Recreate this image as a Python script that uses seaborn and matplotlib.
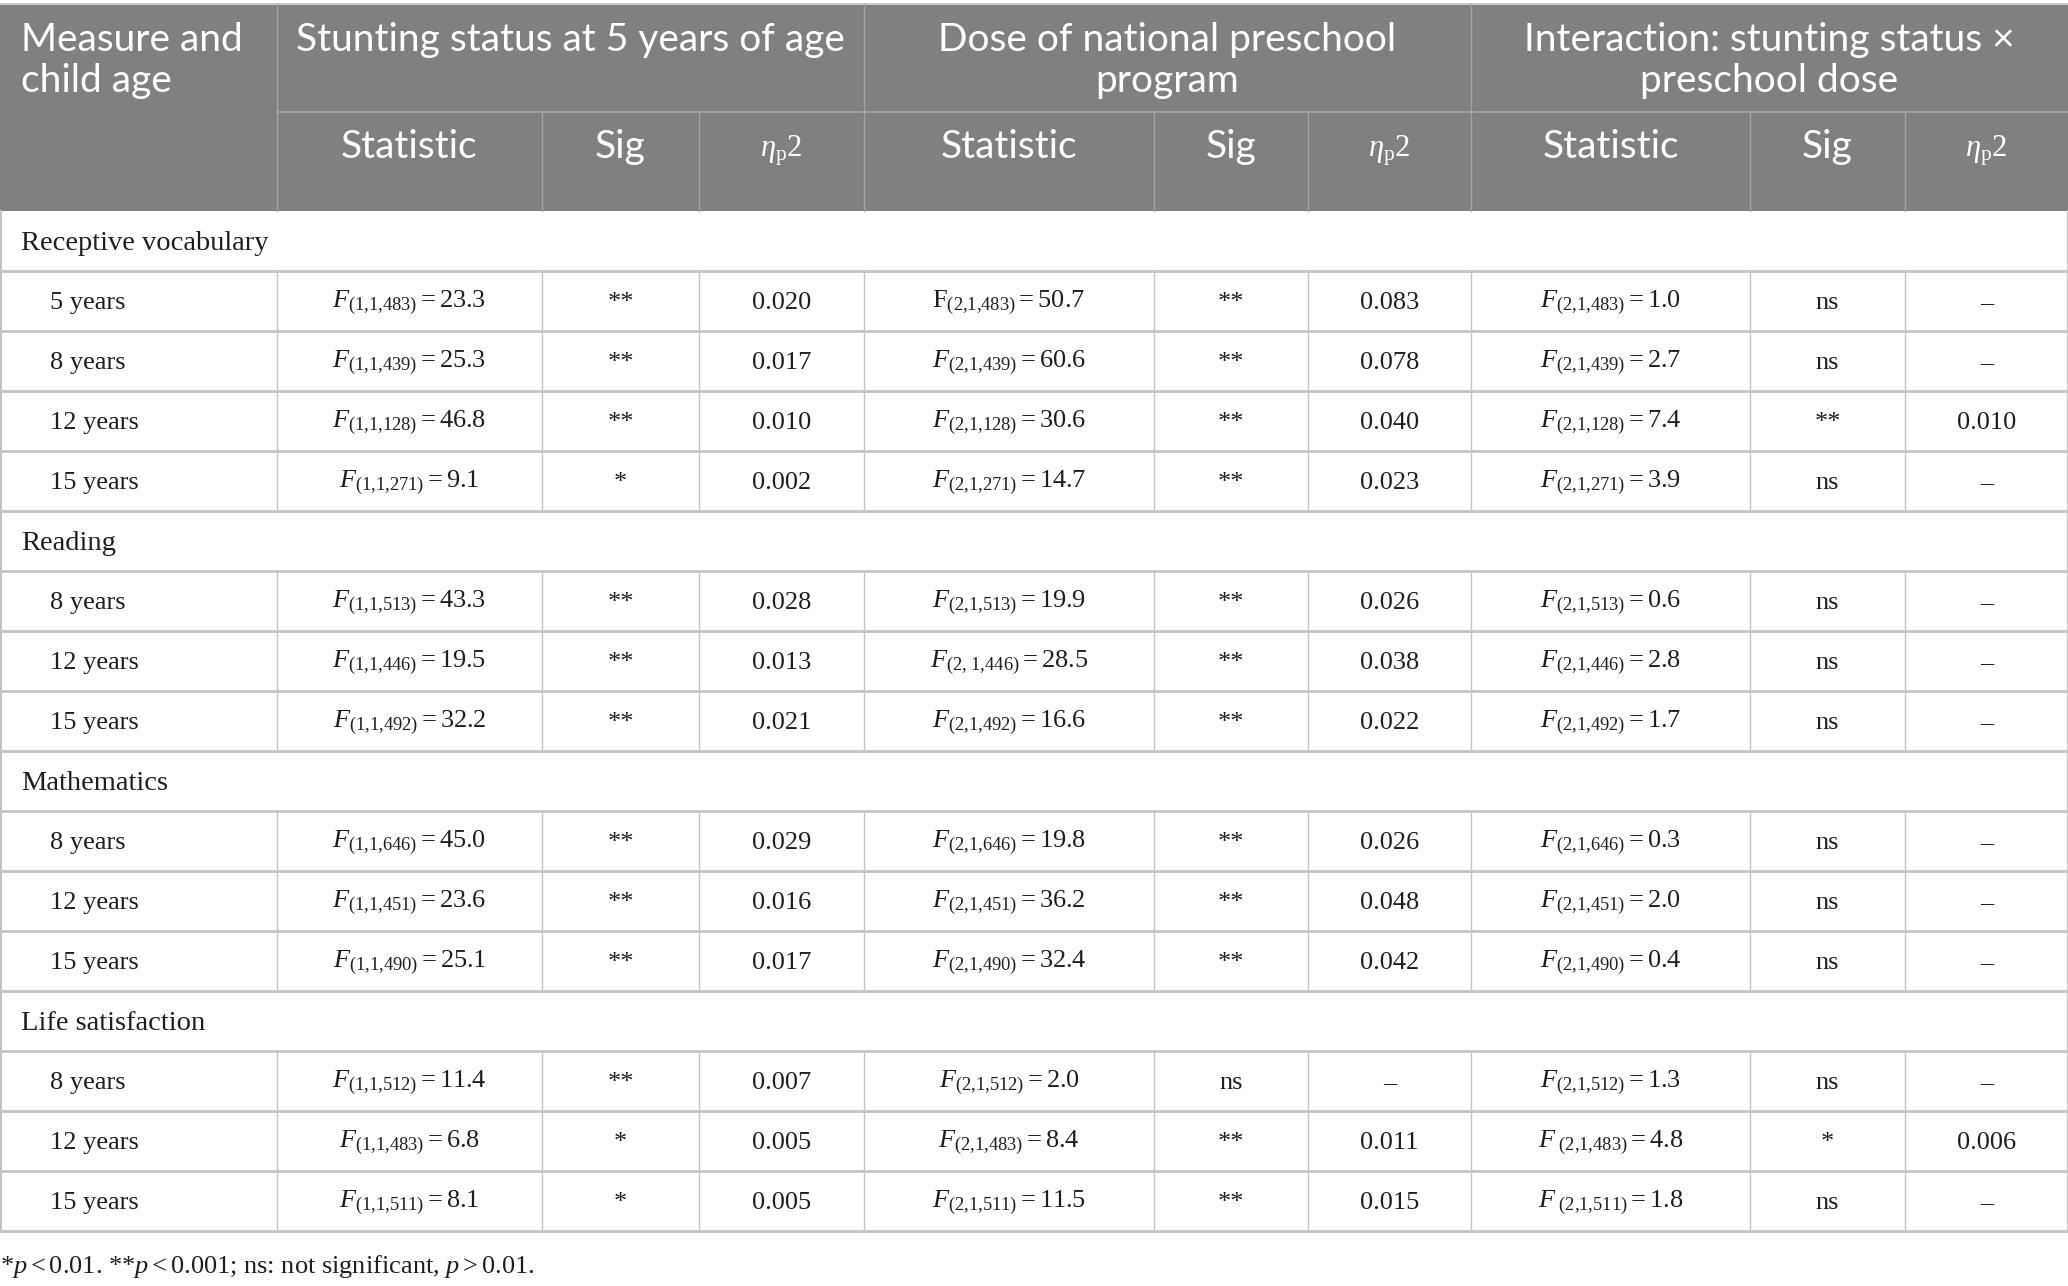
import matplotlib
matplotlib.use("Agg")
import matplotlib.pyplot as plt
import seaborn as sns
import pandas as pd

# ---- data ----
groups = ["Receptive vocabulary", "Reading", "Mathematics", "Life satisfaction"]
ages = [
    ["5 years", "8 years", "12 years", "15 years"],
    ["8 years", "12 years", "15 years"],
    ["8 years", "12 years", "15 years"],
    ["8 years", "12 years", "15 years"],
]

stunt_df = ["(1,1,483)", "(1,1,439)", "(1,1,128)", "(1,1,271)",
            "(1,1,513)", "(1,1,446)", "(1,1,492)",
            "(1,1,646)", "(1,1,451)", "(1,1,490)",
            "(1,1,512)", "(1,1,483)", "(1,1,511)"]
stunt_f = [23.3, 25.3, 46.8, 9.1, 43.3, 19.5, 32.2, 45.0, 23.6, 25.1, 11.4, 6.8, 8.1]
stunt_sig = ["**", "**", "**", "*", "**", "**", "**", "**", "**", "**", "**", "*", "*"]
stunt_eta = ["0.020", "0.017", "0.010", "0.002", "0.028", "0.013", "0.021",
             "0.029", "0.016", "0.017", "0.007", "0.005", "0.005"]

dose_df = ["(2,1,483)", "(2,1,439)", "(2,1,128)", "(2,1,271)",
           "(2,1,513)", "(2, 1,446)", "(2,1,492)",
           "(2,1,646)", "(2,1,451)", "(2,1,490)",
           "(2,1,512)", "(2,1,483)", "(2,1,511)"]
dose_f = [50.7, 60.6, 30.6, 14.7, 19.9, 28.5, 16.6, 19.8, 36.2, 32.4, 2.0, 8.4, 11.5]
dose_sig = ["**", "**", "**", "**", "**", "**", "**", "**", "**", "**", "ns", "**", "**"]
dose_eta = ["0.083", "0.078", "0.040", "0.023", "0.026", "0.038", "0.022",
            "0.026", "0.048", "0.042", "–", "0.011", "0.015"]

inter_df = ["(2,1,483)", "(2,1,439)", "(2,1,128)", "(2,1,271)",
            "(2,1,513)", "(2,1,446)", "(2,1,492)",
            "(2,1,646)", "(2,1,451)", "(2,1,490)",
            "(2,1,512)", "(2,1,483)", "(2,1,511)"]
inter_f = [1.0, 2.7, 7.4, 3.9, 0.6, 2.8, 1.7, 0.3, 2.0, 0.4, 1.3, 4.8, 1.8]
inter_sig = ["ns", "ns", "**", "ns", "ns", "ns", "ns", "ns", "ns", "ns", "ns", "*", "ns"]
inter_eta = ["–", "–", "0.010", "–", "–", "–", "–", "–", "–", "–", "–", "0.006", "–"]

# odd typesetting in the source: upright F, and a gap before the subscript
upright_f = {("dose", 0)}
gap_f = {("inter", 11), ("inter", 12)}

top_headers = ["Measure and\nchild age", "Stunting status at 5 years of age",
               "Dose of national preschool\nprogram",
               "Interaction: stunting status ×\npreschool dose"]
sub_headers = ["Statistic", "Sig", r"$\eta_{\mathrm{p}}$2"]
footnote = r"*$p<0.01$. **$p<0.001$; ns: not significant, $p>0.01$."


def fstat(key, i, df, val):
    f = r"\mathrm{F}" if (key, i) in upright_f else "F"
    # {,} keeps mathtext from padding the commas
    df = df.replace(" ", r"\ ").replace(",", "{,}")
    if (key, i) in gap_f:
        df = r"\ " + df
    return rf"${f}_{{{df}}}={val:.1f}$"


rows = []
k = 0
for g, ag in zip(groups, ages):
    rows.append({"kind": "group", "label": g})
    for a in ag:
        rows.append({
            "kind": "data", "label": a,
            "c1": fstat("stunt", k, stunt_df[k], stunt_f[k]), "c2": stunt_sig[k], "c3": stunt_eta[k],
            "c4": fstat("dose", k, dose_df[k], dose_f[k]), "c5": dose_sig[k], "c6": dose_eta[k],
            "c7": fstat("inter", k, inter_df[k], inter_f[k]), "c8": inter_sig[k], "c9": inter_eta[k],
        })
        k += 1
table = pd.DataFrame(rows)

# ---- style ----
sns.set_theme(style="white")
plt.rcParams["mathtext.fontset"] = "custom"
plt.rcParams["mathtext.rm"] = "Liberation Serif"
plt.rcParams["mathtext.it"] = "Liberation Serif:italic"
plt.rcParams["mathtext.bf"] = "Liberation Serif:bold"
plt.rcParams["font.family"] = ["Liberation Serif", "DejaVu Serif"]

W, H = 2068, 1286
col_x = [0, 277, 542, 699, 864, 1154, 1308, 1471, 1750, 1905, 2068]
head_top, head_mid, head_bot = 4, 112, 211
row_h = 60
head_col = "#808080"
head_line = "#a3a3a3"
body_line = "#c4c4c4"
text_col = "#1e1e1e"
sans = "Lato"
head_fs = 28
body_fs = 19

fig = plt.figure(figsize=(W / 100, H / 100), dpi=100)
ax = fig.add_axes([0, 0, 1, 1])
ax.set_xlim(0, W)
ax.set_ylim(H, 0)
ax.axis("off")

# header block
ax.add_patch(plt.Rectangle((0, head_top), W, head_bot - head_top, color=head_col, lw=0))
ax.plot([0, W], [head_top, head_top], color="#c8c8c8", lw=1.5)
ax.plot([col_x[1], W], [head_mid, head_mid], color=head_line, lw=1.2)
for x in [col_x[1], col_x[4], col_x[7]]:
    ax.plot([x, x], [head_top, head_bot], color=head_line, lw=1)
for x in [col_x[2], col_x[3], col_x[5], col_x[6], col_x[8], col_x[9]]:
    ax.plot([x, x], [head_mid, head_bot], color=head_line, lw=1)

# top header text
spans = [(0, 1), (1, 4), (4, 7), (7, 10)]
for t, (a, b) in zip(top_headers, spans):
    for j, line in enumerate(t.split("\n")):
        if a == 0:
            ax.text(21, 40 + 41 * j, line, ha="left", va="center", color="white",
                    fontsize=head_fs, family=sans)
        else:
            ax.text((col_x[a] + col_x[b]) / 2, 40 + 41 * j, line, ha="center", va="center",
                    color="white", fontsize=head_fs, family=sans)

for c in range(1, 10):
    s = sub_headers[(c - 1) % 3]
    cx = (col_x[c] + col_x[c + 1]) / 2
    if s.startswith("$"):
        ax.text(cx, 151, s, ha="center", va="center", color="white", fontsize=22)
    else:
        ax.text(cx, 147, s, ha="center", va="center", color="white", fontsize=head_fs, family=sans)

# body
for r, row in table.iterrows():
    y0 = head_bot + r * row_h
    yc = y0 + row_h / 2 + 2
    if row["kind"] == "group":
        ax.text(21, yc, row["label"], ha="left", va="center", fontsize=20.5, color=text_col)
    else:
        ax.text(50, yc, row["label"], ha="left", va="center", fontsize=body_fs, color=text_col)
        for c in range(1, 10):
            cx = (col_x[c] + col_x[c + 1]) / 2
            ax.text(cx, yc, row[f"c{c}"], ha="center", va="center", fontsize=body_fs, color=text_col)
        for x in col_x[1:-1]:
            ax.plot([x, x], [y0, y0 + row_h], color=body_line, lw=1)
    ax.plot([0, W], [y0 + row_h, y0 + row_h], color=body_line, lw=2)

body_bot = head_bot + len(table) * row_h
ax.plot([0.5, 0.5], [head_bot, body_bot], color=body_line, lw=1.5)
ax.plot([W - 0.5, W - 0.5], [head_bot, body_bot], color=body_line, lw=1.5)

ax.text(0, 1266, footnote, ha="left", va="center", fontsize=19, color=text_col)

fig.savefig("out.png", dpi=100, facecolor="white")
